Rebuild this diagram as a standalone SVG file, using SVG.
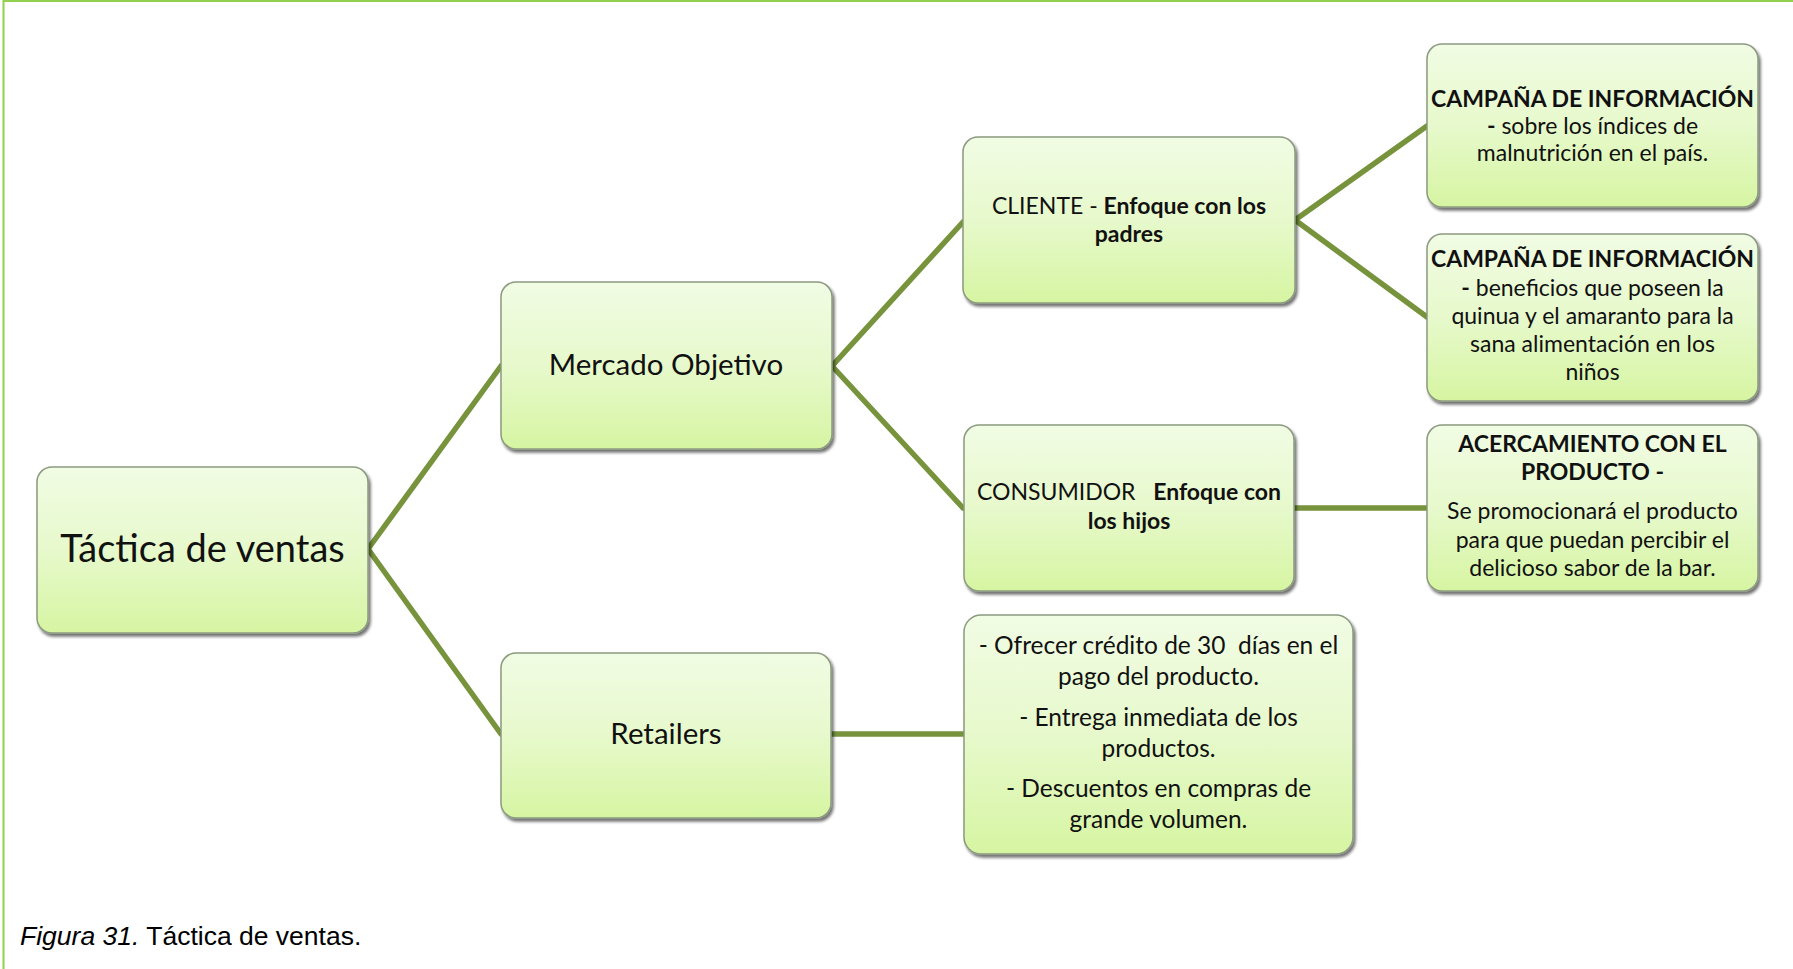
<svg xmlns="http://www.w3.org/2000/svg" width="1793" height="969" viewBox="0 0 1793 969">
  <defs>
    <linearGradient id="boxFill" x1="0" y1="0" x2="0" y2="1">
      <stop offset="0" stop-color="#F1FCE4"/>
      <stop offset="0.5" stop-color="#E7F9CC"/>
      <stop offset="1" stop-color="#D6F5A2"/>
    </linearGradient>
    <filter id="shadow" x="-5%" y="-5%" width="112%" height="115%">
      <feGaussianBlur in="SourceAlpha" stdDeviation="1.5"/>
      <feOffset dx="1.5" dy="3" result="off"/>
      <feComponentTransfer><feFuncA type="linear" slope="0.55"/></feComponentTransfer>
      <feMerge><feMergeNode/><feMergeNode in="SourceGraphic"/></feMerge>
    </filter>
  </defs>
  <style>
    .box { fill: url(#boxFill); stroke: #8C9A80; stroke-width: 1.5; filter: url(#shadow); }
    .lbl { font-family: Lato, "Open Sans", sans-serif; fill: #111; text-anchor: middle; }
    .b { font-weight: bold; }
    .link { stroke: #77933C; stroke-width: 5.5; fill: none; stroke-linecap: round; stroke-linejoin: round; }
    .frame { stroke: #92D050; stroke-width: 2; fill: none; }
    .cap { font-family: "Liberation Sans", Arial, sans-serif; font-size: 26.5px; fill: #000; }
  </style>

  <rect width="1793" height="969" fill="#FFFFFF"/>
  <!-- page frame: top and left rules -->
  <path class="frame" d="M1793,1 H3.5 V969"/>

  <!-- connectors -->
  <g id="connectors">
    <path class="link" d="M501,366 L368,549 L501,734"/>
    <path class="link" d="M963,222 L832,366 L963,508"/>
    <path class="link" d="M1427,126 L1295,220 L1427,317"/>
    <path class="link" d="M1294,508 H1427"/>
    <path class="link" d="M831,734 H964"/>
  </g>

  <g id="tactica">
    <rect class="box" x="37" y="467" width="331" height="166" rx="15"/>
    <text class="lbl" x="202.5" y="562" font-size="38">Táctica de ventas</text>
  </g>

  <g id="mercado">
    <rect class="box" x="501" y="282" width="331" height="167" rx="15"/>
    <text class="lbl" x="666" y="375" font-size="29.5">Mercado Objetivo</text>
  </g>

  <g id="retailers">
    <rect class="box" x="501" y="653" width="330" height="165" rx="15"/>
    <text class="lbl" x="666" y="744" font-size="29.5">Retailers</text>
  </g>

  <g id="cliente">
    <rect class="box" x="963" y="137" width="332" height="166" rx="15"/>
    <text class="lbl" x="1129" y="214" font-size="23">CLIENTE - <tspan class="b">Enfoque con los</tspan></text>
    <text class="lbl b" x="1129" y="242" font-size="23">padres</text>
  </g>

  <g id="consumidor">
    <rect class="box" x="964" y="425" width="330" height="166" rx="15"/>
    <text class="lbl" x="1129" y="500" font-size="23" xml:space="preserve">CONSUMIDOR   <tspan class="b">Enfoque con</tspan></text>
    <text class="lbl b" x="1129" y="529" font-size="23">los hijos</text>
  </g>

  <g id="campana-indices">
    <rect class="box" x="1427" y="44" width="331" height="163" rx="15"/>
    <text class="lbl b" x="1592.5" y="107" font-size="23">CAMPAÑA DE INFORMACIÓN</text>
    <text class="lbl" x="1592.5" y="134" font-size="23"><tspan class="b">-</tspan> sobre los índices de</text>
    <text class="lbl" x="1592.5" y="161" font-size="23">malnutrición en el país.</text>
  </g>

  <g id="campana-beneficios">
    <rect class="box" x="1427" y="234" width="331" height="167" rx="15"/>
    <text class="lbl b" x="1592.5" y="267" font-size="23">CAMPAÑA DE INFORMACIÓN</text>
    <text class="lbl" x="1592.5" y="296" font-size="23"><tspan class="b">-</tspan> beneficios que poseen la</text>
    <text class="lbl" x="1592.5" y="324" font-size="23">quinua y el amaranto para la</text>
    <text class="lbl" x="1592.5" y="352" font-size="23">sana alimentación en los</text>
    <text class="lbl" x="1592.5" y="380" font-size="23">niños</text>
  </g>

  <g id="acercamiento">
    <rect class="box" x="1427" y="425" width="331" height="166" rx="15"/>
    <text class="lbl b" x="1592.5" y="452" font-size="23">ACERCAMIENTO CON EL</text>
    <text class="lbl b" x="1592.5" y="480" font-size="23">PRODUCTO -</text>
    <text class="lbl" x="1592.5" y="519" font-size="23">Se promocionará el producto</text>
    <text class="lbl" x="1592.5" y="548" font-size="23">para que puedan percibir el</text>
    <text class="lbl" x="1592.5" y="576" font-size="23">delicioso sabor de la bar.</text>
  </g>

  <g id="retailers-acciones">
    <rect class="box" x="964" y="615" width="389" height="239" rx="17"/>
    <text class="lbl" x="1158.5" y="654" font-size="24.5" xml:space="preserve">- Ofrecer crédito de 30  días en el</text>
    <text class="lbl" x="1158.5" y="685" font-size="24.5">pago del producto.</text>
    <text class="lbl" x="1158.5" y="726" font-size="24.5">- Entrega inmediata de los</text>
    <text class="lbl" x="1158.5" y="757" font-size="24.5">productos.</text>
    <text class="lbl" x="1158.5" y="797" font-size="24.5">- Descuentos en compras de</text>
    <text class="lbl" x="1158.5" y="828" font-size="24.5">grande volumen.</text>
  </g>

  <text class="cap" x="20" y="945"><tspan font-style="italic">Figura 31.</tspan> Táctica de ventas.</text>
</svg>
